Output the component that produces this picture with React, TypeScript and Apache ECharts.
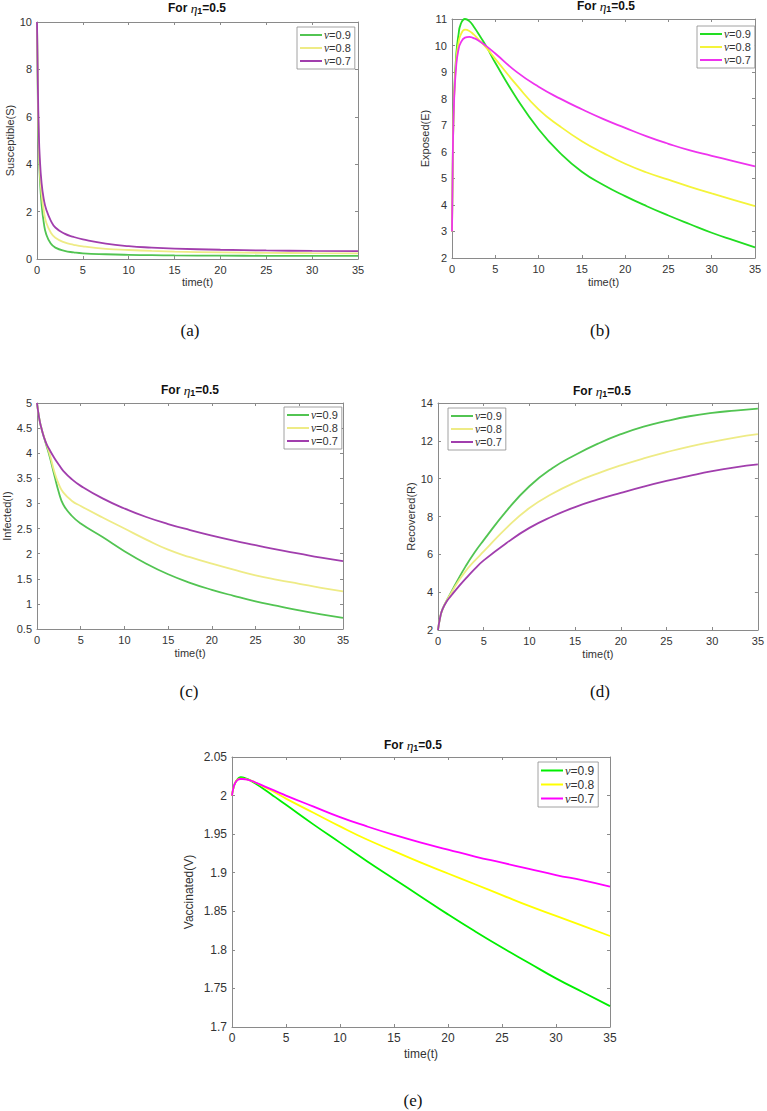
import React, { useEffect, useRef } from "react";
import * as echarts from "echarts";

// ---------- data ----------
const NU_LABELS = ["0.9", "0.8", "0.7"];

const T_A = [0, 0.1, 0.2, 0.3, 0.5, 0.75, 1, 1.5, 2, 3, 4, 5, 7.5, 10, 12.5, 15, 20, 25, 30, 35];
const S_09 = [10, 6.5, 4.6, 3.5, 2.3, 1.5, 1.05, 0.65, 0.48, 0.34, 0.28, 0.24, 0.2, 0.175, 0.16, 0.15, 0.14, 0.135, 0.13, 0.13];
const S_08 = [10, 6.8, 4.9, 3.8, 2.75, 2.0, 1.55, 1.12, 0.9, 0.7, 0.6, 0.53, 0.43, 0.38, 0.34, 0.31, 0.28, 0.26, 0.25, 0.24];
const S_07 = [10, 7.2, 5.3, 4.3, 3.2, 2.5, 2.1, 1.62, 1.33, 1.07, 0.93, 0.83, 0.65, 0.54, 0.48, 0.44, 0.39, 0.36, 0.34, 0.33];

const T_B = [0, 0.1, 0.25, 0.5, 0.75, 1, 1.5, 2, 2.5, 3, 4, 5, 7.5, 10, 12.5, 15, 17.5, 20, 22.5, 25, 27.5, 30, 32.5, 35];
const E_09 = [3, 6, 8.2, 9.7, 10.4, 10.8, 11.0, 10.92, 10.72, 10.47, 9.95, 9.35, 8.0, 6.85, 5.95, 5.25, 4.75, 4.33, 3.95, 3.6, 3.27, 2.95, 2.67, 2.4];
const E_08 = [3, 6, 8.1, 9.5, 10.1, 10.4, 10.6, 10.55, 10.42, 10.25, 9.9, 9.5, 8.5, 7.6, 6.95, 6.4, 5.95, 5.55, 5.22, 4.95, 4.68, 4.43, 4.19, 3.95];
const E_07 = [3, 6, 8.0, 9.3, 9.85, 10.1, 10.3, 10.33, 10.28, 10.2, 9.97, 9.7, 9.0, 8.45, 8.0, 7.6, 7.23, 6.9, 6.58, 6.3, 6.05, 5.85, 5.65, 5.45];

const T_C = [0, 0.25, 0.5, 1, 1.5, 2, 2.5, 3, 4, 5, 7.5, 10, 12.5, 15, 17.5, 20, 22.5, 25, 27.5, 30, 32.5, 35];
const I_09 = [5, 4.7, 4.5, 4.2, 3.9, 3.55, 3.22, 2.98, 2.75, 2.6, 2.33, 2.05, 1.8, 1.59, 1.42, 1.28, 1.16, 1.05, 0.96, 0.87, 0.79, 0.72];
const I_08 = [5, 4.7, 4.5, 4.22, 3.95, 3.62, 3.38, 3.22, 3.05, 2.95, 2.72, 2.5, 2.28, 2.08, 1.93, 1.8, 1.68, 1.57, 1.48, 1.4, 1.32, 1.25];
const I_07 = [5, 4.7, 4.5, 4.22, 4.05, 3.9, 3.77, 3.65, 3.48, 3.35, 3.1, 2.9, 2.73, 2.59, 2.47, 2.36, 2.26, 2.17, 2.08, 2.0, 1.92, 1.85];

const T_D = [0, 0.25, 0.5, 1, 1.5, 2, 3, 4, 5, 7.5, 10, 12.5, 15, 17.5, 20, 22.5, 25, 27.5, 30, 32.5, 35];
const R_09 = [2, 2.7, 3.1, 3.6, 4.05, 4.5, 5.35, 6.1, 6.75, 8.3, 9.6, 10.55, 11.25, 11.85, 12.35, 12.75, 13.05, 13.3, 13.48, 13.6, 13.7];
const R_08 = [2, 2.7, 3.1, 3.6, 4.0, 4.4, 5.1, 5.65, 6.15, 7.4, 8.45, 9.2, 9.8, 10.28, 10.7, 11.07, 11.4, 11.7, 11.95, 12.17, 12.35];
const R_07 = [2, 2.7, 3.1, 3.55, 3.85, 4.15, 4.7, 5.22, 5.68, 6.6, 7.4, 8.0, 8.5, 8.9, 9.25, 9.58, 9.88, 10.15, 10.4, 10.6, 10.75];

const T_E = [0, 0.1, 0.25, 0.5, 0.8, 1, 1.5, 2, 3, 4, 5, 7.5, 10, 12.5, 15, 17.5, 20, 22.5, 25, 27.5, 30, 32.5, 35];
const V_09 = [2.0, 2.008, 2.015, 2.021, 2.024, 2.0235, 2.021, 2.017, 2.008, 1.998, 1.988, 1.963, 1.939, 1.915, 1.892, 1.869, 1.846, 1.824, 1.803, 1.783, 1.763, 1.745, 1.727];
const V_08 = [2.0, 2.008, 2.015, 2.0205, 2.022, 2.0218, 2.0205, 2.018, 2.011, 2.004, 1.996, 1.978, 1.96, 1.943, 1.928, 1.913, 1.899, 1.885, 1.871, 1.857, 1.844, 1.831, 1.818];
const V_07 = [2.0, 2.008, 2.015, 2.02, 2.0215, 2.0215, 2.0205, 2.018, 2.012, 2.006, 2.0, 1.986, 1.972, 1.96, 1.949, 1.939, 1.93, 1.921, 1.913, 1.905, 1.897, 1.89, 1.882];

const X_TICK = { min: 0, max: 35, interval: 5 };

const SANS = "Liberation Sans";
const SERIF = "Liberation Serif";
const AXIS_COLOR = "#8a8a8a";
const LABEL_COLOR = "#333333";

const MUTED = ["#52c452", "#eeeb86", "#a13ead"];
const BRIGHT = ["#22dd22", "#f4f43a", "#ee33ee"];
const PURE = ["#00ee00", "#ffff00", "#ff00ff"];

type Panel = {
  key: string;
  grid: { left: number; top: number; width: number; height: number };
  t: number[];
  values: number[][];
  colors: string[];
  y: { min: number; max: number; interval: number; name: string; gap: number };
  xGap: number;
  legend: { left: number; top: number };
  title: { x: number; y: number };
  caption: { text: string; x: number; y: number };
  labelSize: number;
};

const PANELS: Panel[] = [
  {
    key: "a",
    grid: { left: 37, top: 22, width: 321, height: 237 },
    t: T_A,
    values: [S_09, S_08, S_07],
    colors: MUTED,
    y: { min: 0, max: 10, interval: 2, name: "Susceptible(S)", gap: 22 },
    xGap: 17,
    legend: { left: 297, top: 27 },
    title: { x: 197, y: 8 },
    caption: { text: "(a)", x: 190, y: 330 },
    labelSize: 11,
  },
  {
    key: "b",
    grid: { left: 452, top: 19, width: 303, height: 239 },
    t: T_B,
    values: [E_09, E_08, E_07],
    colors: BRIGHT,
    y: { min: 2, max: 11, interval: 1, name: "Exposed(E)", gap: 19 },
    xGap: 18,
    legend: { left: 697, top: 26 },
    title: { x: 606, y: 6 },
    caption: { text: "(b)", x: 600, y: 330 },
    labelSize: 11,
  },
  {
    key: "c",
    grid: { left: 34, top: 403, width: 309, height: 226 },
    t: T_C,
    values: [I_09, I_08, I_07],
    colors: MUTED,
    y: { min: 0.5, max: 5, interval: 0.5, name: "Infected(I)", gap: 25 },
    xGap: 18,
    legend: { left: 284, top: 407 },
    title: { x: 190, y: 390 },
    caption: { text: "(c)", x: 189, y: 691 },
    labelSize: 11,
  },
  {
    key: "d",
    grid: { left: 438, top: 403, width: 321, height: 227 },
    t: T_D,
    values: [R_09, R_08, R_07],
    colors: MUTED,
    y: { min: 2, max: 14, interval: 2, name: "Recovered(R)", gap: 21 },
    xGap: 18,
    legend: { left: 448, top: 408 },
    title: { x: 602, y: 391 },
    caption: { text: "(d)", x: 600, y: 691 },
    labelSize: 11,
  },
  {
    key: "e",
    grid: { left: 232, top: 757, width: 378, height: 270 },
    t: T_E,
    values: [V_09, V_08, V_07],
    colors: PURE,
    y: { min: 1.7, max: 2.05, interval: 0.05, name: "Vaccinated(V)", gap: 37 },
    xGap: 21,
    legend: { left: 538, top: 762 },
    title: { x: 413, y: 745 },
    caption: { text: "(e)", x: 413, y: 1100 },
    labelSize: 12,
  },
];

function buildOption() {
  const grids: any[] = [];
  const xAxes: any[] = [];
  const yAxes: any[] = [];
  const series: any[] = [];
  const legends: any[] = [];
  const graphics: any[] = [];

  PANELS.forEach((p, gi) => {
    grids.push({ ...p.grid, containLabel: false });
    const line = { show: true, onZero: false, lineStyle: { color: AXIS_COLOR, width: 1 } };
    const tick = { show: true, inside: true, length: 3, lineStyle: { color: AXIS_COLOR } };
    const label = { color: LABEL_COLOR, fontSize: p.labelSize, fontFamily: SANS, margin: 5 };
    xAxes.push({
      gridIndex: gi, type: "value", position: "bottom", ...X_TICK,
      axisLine: line, axisTick: tick, axisLabel: label, splitLine: { show: false },
      name: "time(t)", nameLocation: "middle", nameGap: p.xGap,
      nameTextStyle: { color: LABEL_COLOR, fontSize: p.labelSize, fontFamily: SANS },
    });
    xAxes.push({
      gridIndex: gi, type: "value", position: "top", ...X_TICK,
      axisLine: line, axisTick: tick, axisLabel: { show: false }, splitLine: { show: false },
    });
    yAxes.push({
      gridIndex: gi, type: "value", position: "left",
      min: p.y.min, max: p.y.max, interval: p.y.interval,
      axisLine: line, axisTick: tick, axisLabel: label, splitLine: { show: false },
      name: p.y.name, nameLocation: "middle", nameGap: p.y.gap,
      nameTextStyle: { color: LABEL_COLOR, fontSize: p.labelSize, fontFamily: SANS },
    });
    yAxes.push({
      gridIndex: gi, type: "value", position: "right",
      min: p.y.min, max: p.y.max, interval: p.y.interval,
      axisLine: line, axisTick: tick, axisLabel: { show: false }, splitLine: { show: false },
    });

    const names: string[] = [];
    p.values.forEach((vals, si) => {
      const name = `${p.key}:${NU_LABELS[si]}`;
      names.push(name);
      series.push({
        type: "line", name,
        xAxisIndex: gi * 2, yAxisIndex: gi * 2,
        data: p.t.map((t, i) => [t, vals[i]]),
        symbol: "none", showSymbol: false,
        smooth: 0.5,
        lineStyle: { color: p.colors[si], width: 1.8 },
        itemStyle: { color: p.colors[si] },
        z: 3 + si,
      });
    });

    legends.push({
      data: names,
      orient: "vertical",
      left: p.legend.left, top: p.legend.top,
      backgroundColor: "#ffffff",
      borderColor: "#8a8a8a", borderWidth: 0.8,
      padding: [2, 4, 2, 3],
      itemGap: 1, itemWidth: 22, itemHeight: 2,
      icon: "rect",
      selectedMode: false,
      formatter: (n: string) => `{i|ν}{t|=${n.split(":")[1]}}`,
      textStyle: {
        color: LABEL_COLOR, fontSize: p.labelSize, fontFamily: SANS, padding: [0, 0, 0, -3],
        lineHeight: 12,
        rich: {
          i: { fontStyle: "italic", fontFamily: SERIF, fontSize: p.labelSize + 0.5, color: LABEL_COLOR, lineHeight: 12 },
          t: { fontFamily: SANS, fontSize: p.labelSize, color: LABEL_COLOR, lineHeight: 12 },
        },
      },
    });

    graphics.push({
      type: "text", x: p.title.x, y: p.title.y, z: 10,
      style: {
        text: "{b|For }{e|η}{s|1}{b|=0.5}",
        textAlign: "center", textVerticalAlign: "middle",
        rich: {
          b: { fontWeight: "bold", fontSize: 12, fontFamily: SANS, fill: "#111", lineHeight: 15, verticalAlign: "middle" },
          e: { fontStyle: "italic", fontSize: 13.5, fontFamily: SERIF, fill: "#111", lineHeight: 15, verticalAlign: "middle" },
          s: { fontWeight: "bold", fontSize: 9, fontFamily: SANS, fill: "#111", lineHeight: 15, verticalAlign: "bottom", padding: [7, 0, 0, 0] },
        },
      },
    });
    graphics.push({
      type: "text", x: p.caption.x, y: p.caption.y,
      style: {
        text: p.caption.text, fontFamily: SERIF, fontSize: 17, fill: "#111",
        textAlign: "center", textVerticalAlign: "middle",
      },
    });
  });

  return {
    animation: false,
    backgroundColor: "#ffffff",
    grid: grids,
    xAxis: xAxes,
    yAxis: yAxes,
    legend: legends,
    series,
    graphic: graphics,
  };
}

export default function App() {
  const ref = useRef<HTMLDivElement>(null);
  useEffect(() => {
    if (!ref.current) return;
    const chart = echarts.init(ref.current, undefined, { renderer: "svg" });
    chart.setOption(buildOption() as any);
    return () => chart.dispose();
  }, []);
  return (
    <div
      ref={ref}
      style={{ position: "fixed", left: 0, top: 0, width: 767, height: 1111, background: "#fff" }}
    />
  );
}
